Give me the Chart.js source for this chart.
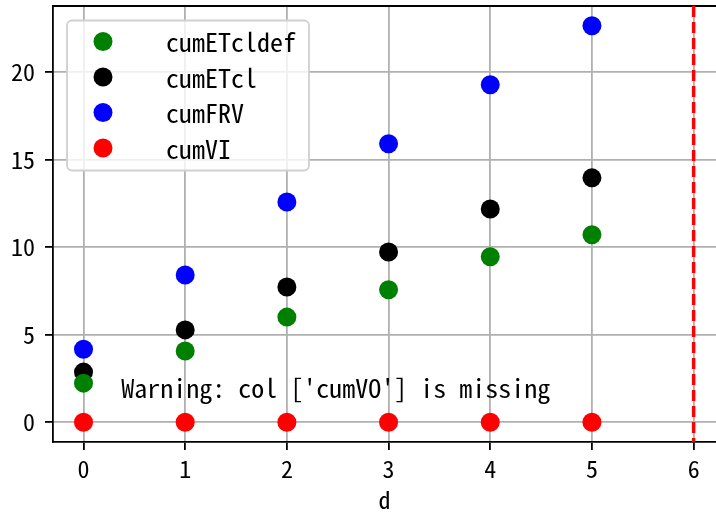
<!DOCTYPE html>
<html>
<head>
<meta charset="utf-8">
<script src="https://cdn.jsdelivr.net/npm/chart.js@4/dist/chart.umd.min.js"></script>
<style>
html,body{margin:0;padding:0;background:#fff;overflow:hidden;}
#wrap{width:716px;height:513px;position:relative;}
</style>
</head>
<body>
<div id="wrap"><canvas id="c" width="716" height="513"></canvas></div>
<script>
const days = [0, 1, 2, 3, 4, 5];
const cumETcldef = [2.23, 4.06, 6.0, 7.56, 9.45, 10.7];
const cumETcl = [2.86, 5.27, 7.72, 9.72, 12.17, 13.95];
const cumFRV = [4.17, 8.4, 12.57, 15.9, 19.26, 22.63];
const cumVI = [0, 0, 0, 0, 0, 0];
const seriesNames = ['cumETcldef', 'cumETcl', 'cumFRV', 'cumVI'];
const seriesColors = ['#008000', '#000000', '#0000ff', '#ff0000'];
const xTicks = [0, 1, 2, 3, 4, 5, 6];
const yTicks = [0, 5, 10, 15, 20];
const vlineX = 6;
const warningText = "Warning: col ['cumVO'] is missing";

const FONT = "'Noto Sans Mono CJK JP', 'Noto Sans CJK JP', 'DejaVu Sans Mono', monospace";
const allSeries = [cumETcldef, cumETcl, cumFRV, cumVI];

const datasets = allSeries.map((vals, i) => ({
  label: seriesNames[i],
  data: days.map((d, j) => ({x: d, y: vals[j]})),
  backgroundColor: seriesColors[i],
  borderColor: seriesColors[i],
  pointRadius: 9.5,
  pointHoverRadius: 9.5,
  borderWidth: 0,
  showLine: false
}));

const extras = {
  id: 'extras',
  beforeDatasetsDraw(chart) {
    const {ctx, chartArea: a} = chart;
    ctx.save();
    ctx.strokeStyle = '#000';
    ctx.lineWidth = 1.8;
    ctx.beginPath();
    ctx.moveTo(a.left, a.top);
    ctx.lineTo(a.right + 2, a.top);
    ctx.stroke();
    ctx.restore();
  },
  afterDatasetsDraw(chart) {
    const {ctx, chartArea: a, scales: {x, y}} = chart;
    ctx.save();
    const px = x.getPixelForValue(vlineX);
    ctx.strokeStyle = '#ff0000';
    ctx.lineWidth = 3.5;
    ctx.setLineDash([11, 5]);
    ctx.beginPath();
    ctx.moveTo(px, a.top);
    ctx.lineTo(px, a.bottom);
    ctx.stroke();
    ctx.setLineDash([]);
    ctx.fillStyle = '#000';
    ctx.font = '26px ' + FONT;
    ctx.textBaseline = 'alphabetic';
    ctx.textAlign = 'left';
    ctx.fillText(warningText, x.getPixelForValue(0.37), y.getPixelForValue(1.38));
    const lx = a.left + 14, ly = a.top + 14.5, lw = 242, lh = 150;
    ctx.fillStyle = 'rgba(255,255,255,0.8)';
    ctx.strokeStyle = '#d0d0d0';
    ctx.lineWidth = 1.8;
    ctx.beginPath();
    ctx.roundRect(lx, ly, lw, lh, 5);
    ctx.fill();
    ctx.stroke();
    ctx.font = '26px ' + FONT;
    ctx.textBaseline = 'middle';
    seriesNames.forEach((n, i) => {
      const cy = ly + 21 + i * 35.5;
      ctx.fillStyle = seriesColors[i];
      ctx.beginPath();
      ctx.arc(lx + 36, cy, 9.5, 0, Math.PI * 2);
      ctx.fill();
      ctx.fillStyle = '#000';
      ctx.fillText(n, lx + 99, cy + 1);
    });
    ctx.restore();
  }
};

new Chart(document.getElementById('c'), {
  type: 'scatter',
  data: {datasets},
  options: {
    responsive: false,
    animation: false,
    devicePixelRatio: 1,
    layout: {autoPadding: false, padding: {top: 6, right: 0, left: 0, bottom: 0}},
    plugins: {legend: {display: false}, tooltip: {enabled: false}},
    scales: {
      x: {
        type: 'linear',
        min: -0.3, max: 6.22,
        afterFit(s) { s.height = 71; s.paddingLeft = 0; s.paddingRight = 0; },
        afterBuildTicks(s) { s.ticks = xTicks.map(v => ({value: v})); },
        ticks: {color: '#000', font: {family: FONT, size: 24}, padding: 4, maxRotation: 0},
        grid: {color: '#b0b0b0', lineWidth: 1.8, tickColor: '#000', tickLength: 8, tickWidth: 1.8},
        border: {display: true, color: '#000', width: 1.8},
        title: {display: true, text: 'd', color: '#000', font: {family: FONT, size: 24}, padding: {top: 0, bottom: -1}}
      },
      y: {
        type: 'linear',
        min: -1.13, max: 23.76,
        afterFit(s) { s.width = 53; s.paddingTop = 0; s.paddingBottom = 0; },
        afterBuildTicks(s) { s.ticks = yTicks.map(v => ({value: v})); },
        ticks: {color: '#000', font: {family: FONT, size: 24}, padding: 10},
        grid: {color: '#b0b0b0', lineWidth: 1.8, tickColor: '#000', tickLength: 8, tickWidth: 1.8},
        border: {display: true, color: '#000', width: 1.8}
      }
    }
  },
  plugins: [extras]
});
</script>
</body>
</html>
